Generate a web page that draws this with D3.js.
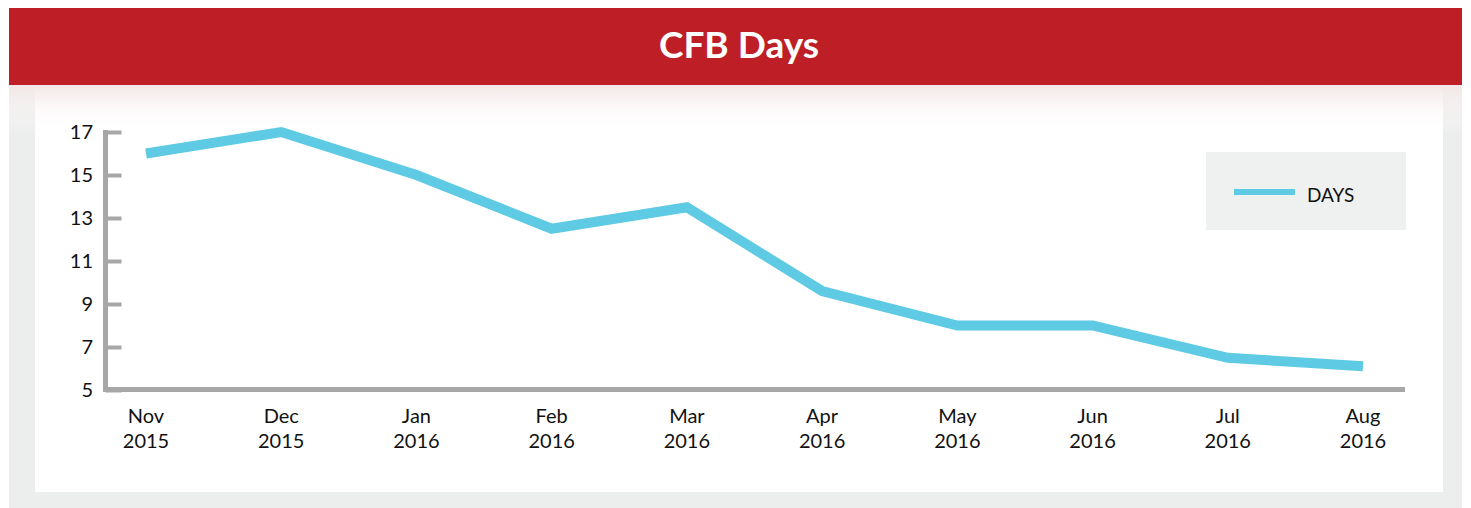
<!DOCTYPE html>
<html>
<head>
<meta charset="utf-8">
<script src="https://cdn.jsdelivr.net/npm/d3@7"></script>
<style>
  html, body { margin: 0; padding: 0; background: #ffffff; }
  svg { display: block; }
</style>
</head>
<body>
<svg id="chart" width="1471" height="508"></svg>
<script>
const title = "CFB Days";
const months = ["Nov", "Dec", "Jan", "Feb", "Mar", "Apr", "May", "Jun", "Jul", "Aug"];
const years = ["2015", "2015", "2016", "2016", "2016", "2016", "2016", "2016", "2016", "2016"];
const days = [16, 17, 15, 12.5, 13.5, 9.6, 8, 8, 6.5, 6.1];
const yTicks = [5, 7, 9, 11, 13, 15, 17];
const seriesName = "DAYS";

const svg = d3.select("#chart");
const font = "Lato, 'Open Sans', sans-serif";
const defs = svg.append("defs");

const grad = defs.append("linearGradient").attr("id", "shade").attr("x1", 0).attr("y1", 0).attr("x2", 0).attr("y2", 1);
grad.append("stop").attr("offset", "0%").attr("stop-color", "#f3e6e6");
grad.append("stop").attr("offset", "100%").attr("stop-color", "#ffffff").attr("stop-opacity", 0);

// outer grey panel
svg.append("rect").attr("x", 9).attr("y", 84).attr("width", 1453).attr("height", 424).attr("fill", "#eceeed");
// inner white panel
svg.append("rect").attr("x", 35).attr("y", 84).attr("width", 1408).attr("height", 408).attr("fill", "#ffffff");
// shade below banner
svg.append("rect").attr("x", 9).attr("y", 84).attr("width", 1453).attr("height", 50).attr("fill", "url(#shade)");

// banner
svg.append("rect").attr("x", 9).attr("y", 8).attr("width", 1453).attr("height", 77).attr("fill", "#be1f26");
svg.append("text").attr("x", 739).attr("y", 58).attr("text-anchor", "middle")
  .attr("fill", "#ffffff").attr("font-family", font).attr("font-weight", 700).attr("font-size", 37)
  .text(title);

const x = d3.scalePoint().domain(d3.range(months.length)).range([146, 1363]);
const y = d3.scaleLinear().domain([5, 17]).range([390, 132]);

// y axis
const yAxis = svg.append("g").attr("transform", "translate(105.5,0)")
  .call(d3.axisRight(y).tickValues(yTicks).tickSize(16).tickFormat(""));
yAxis.select(".domain").remove();
yAxis.selectAll(".tick line").attr("stroke", "#a7a7a7").attr("stroke-width", 4);
svg.append("line").attr("x1", 105.5).attr("x2", 105.5).attr("y1", 130).attr("y2", 392)
  .attr("stroke", "#a7a7a7").attr("stroke-width", 5);
svg.append("line").attr("x1", 103).attr("x2", 1405).attr("y1", 389.5).attr("y2", 389.5)
  .attr("stroke", "#a7a7a7").attr("stroke-width", 5);

svg.append("g").selectAll("text").data(yTicks).join("text")
  .attr("x", 93).attr("y", d => y(d)).attr("dy", "0.35em").attr("text-anchor", "end")
  .attr("font-family", font).attr("font-size", 20).attr("fill", "#111")
  .text(d => d);

// x labels
const xl = svg.append("g").selectAll("text").data(months).join("text")
  .attr("x", (d, i) => x(i)).attr("text-anchor", "middle")
  .attr("font-family", font).attr("font-size", 20).attr("fill", "#111");
xl.append("tspan").attr("x", (d, i) => x(i)).attr("y", 423).text(d => d);
xl.append("tspan").attr("x", (d, i) => x(i)).attr("y", 448).text((d, i) => years[i]);

// line
const line = d3.line().x((d, i) => x(i)).y(d => y(d));
svg.append("path").datum(days).attr("d", line)
  .attr("fill", "none").attr("stroke", "#5ecae4").attr("stroke-width", 10)
  .attr("stroke-linejoin", "miter").attr("stroke-linecap", "butt");

// legend
svg.append("rect").attr("x", 1206).attr("y", 152).attr("width", 200).attr("height", 78).attr("fill", "#eff1f0");
svg.append("line").attr("x1", 1234).attr("x2", 1295).attr("y1", 192).attr("y2", 192)
  .attr("stroke", "#5ecae4").attr("stroke-width", 6);
svg.append("text").attr("x", 1307).attr("y", 195).attr("dy", "0.35em")
  .attr("font-family", font).attr("font-size", 19).attr("fill", "#111").text(seriesName);
</script>
</body>
</html>
